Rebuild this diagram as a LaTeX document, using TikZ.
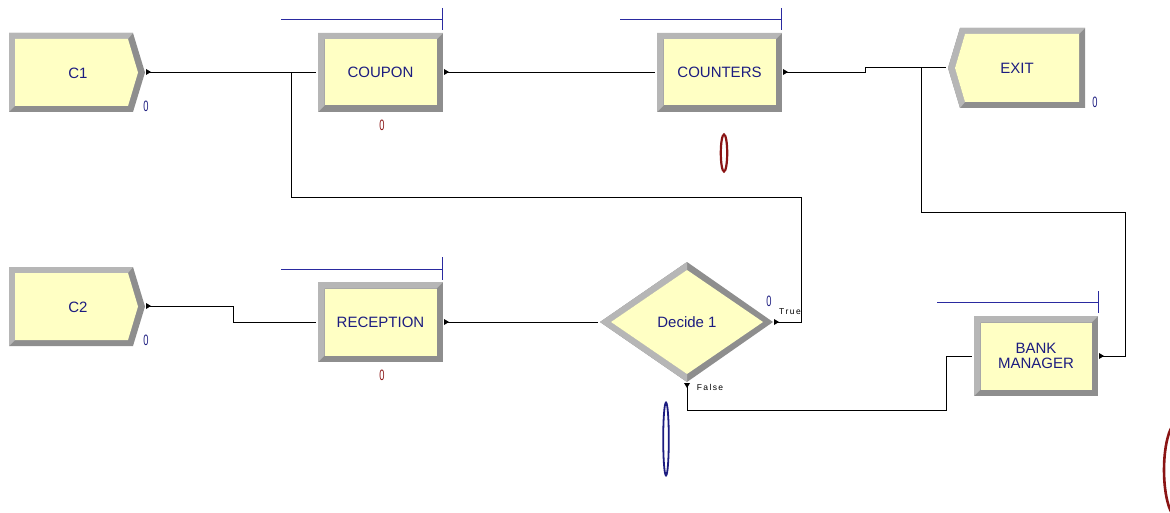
\documentclass[tikz,border=0pt]{standalone}
\usepackage{fontspec}
\setmainfont{Liberation Sans}
\usetikzlibrary{arrows.meta,calc}
\definecolor{bevlight}{HTML}{B6B6B6}
\definecolor{bevdark}{HTML}{8E8E8E}
\definecolor{modyel}{HTML}{FFFFC4}
\definecolor{navy}{HTML}{1C1C80}
\definecolor{qblue}{HTML}{2A2AA0}
\definecolor{dred}{HTML}{8A1414}
\tikzset{
  modtext/.style={text=navy, font=\fontsize{15}{15.5}\selectfont, align=center, inner sep=0pt},
  zeroblue/.style={text=navy, font=\fontsize{15}{15}\selectfont, inner sep=0pt},
  zerored/.style={text=dred, font=\fontsize{15}{15}\selectfont, inner sep=0pt},
  conn/.style={draw=black, line width=0.8pt},
  portmark/.style={fill=black},
  queue/.style={draw=qblue, line width=0.8pt},
  branchlbl/.style={text=black, font=\fontsize{8.5}{8.5}\selectfont, inner sep=0pt},
}
\newcommand{\zerolbl}{\scalebox{0.62}[1]{0}}
% rectangular process module: name, x1, y1, x2, y2, text
\newcommand{\procmod}[6]{%
  \fill[bevdark] (#2,#3) rectangle (#4,#5);
  \fill[bevlight] (#2,#3) -- (#4,#3) -- ({#4-6.5},{#3+6.5}) -- ({#2+6.5},{#3+6.5}) -- ({#2+6.5},{#5-6.5}) -- (#2,#5) -- cycle;
  \fill[modyel] ({#2+6.5},{#3+6.5}) rectangle ({#4-6.5},{#5-6.5});
  \node[modtext, minimum width={(#4-#2)*1pt}, minimum height={(#5-#3)*1pt}] (#1) at ({(#2+#4)/2},{(#3+#5)/2}) {#6};
}
% create module (pointing right): name, x1, y1, y2, text
\newcommand{\createmod}[5]{%
  \fill[bevdark] (#2,#3) -- ({#2+124},#3) -- ({#2+136},{(#3+#4)/2}) -- ({#2+124},#4) -- (#2,#4) -- cycle;
  \fill[bevlight] (#2,#3) -- ({#2+124},#3) -- ({#2+119},{#3+6}) -- ({#2+6},{#3+6}) -- ({#2+6},{#4-6}) -- (#2,#4) -- cycle;
  \fill[modyel] ({#2+6},{#3+6}) -- ({#2+119},{#3+6}) -- ({#2+129},{(#3+#4)/2}) -- ({#2+119},{#4-6}) -- ({#2+6},{#4-6}) -- cycle;
  \node[modtext, minimum width=124pt, minimum height={(#4-#3)*1pt}] (#1) at ({#2+69},{(#3+#4)/2+0.5}) {#5};
}
% exit marks: right-pointing and down-pointing small triangles
\newcommand{\portright}[1]{\fill[portmark] ($(#1)+(0pt,3pt)$) -- ($(#1)+(5pt,0pt)$) -- ($(#1)+(0pt,-3pt)$) -- cycle;}
\newcommand{\portdown}[1]{\fill[portmark] ($(#1)+(-3pt,0pt)$) -- ($(#1)+(0pt,-5pt)$) -- ($(#1)+(3pt,0pt)$) -- cycle;}
\begin{document}
\begin{tikzpicture}[x=1pt,y=-1pt]
\useasboundingbox (0,0) rectangle (1170,513);

% ---- modules ----
\createmod{c1}{9}{33}{112}{C1}
\createmod{c2}{9}{267}{346}{C2}
\procmod{coupon}{318}{33}{443}{112}{COUPON}
\procmod{counters}{657}{33}{782}{112}{COUNTERS}
\procmod{reception}{318}{282}{443}{362}{RECEPTION}
\procmod{bank}{974}{316}{1098}{396}{BANK\\MANAGER}

% exit (dispose) module
\fill[bevdark] (948,68) -- (960,28) -- (1085,28) -- (1085,108) -- (960,108) -- cycle;
\fill[bevlight] (948,68) -- (960,28) -- (1085,28) -- (1079,34) -- (965,34) -- (955,68) -- (965,102) -- (960,108) -- cycle;
\fill[modyel] (955,68) -- (965,34) -- (1079,34) -- (1079,102) -- (965,102) -- cycle;
\node[modtext, minimum width=125pt, minimum height=80pt] (exit) at (1017,68) {EXIT};

% decide module
\fill[bevdark] (600,322) -- (687,262) -- (773,322) -- (687,382) -- cycle;
\fill[bevlight] (687,262) -- (600,322) -- (687,382) -- (687,374) -- (611,322) -- (687,270) -- cycle;
\fill[modyel] (611,322) -- (687,270) -- (763,322) -- (687,374) -- cycle;
\node[modtext, minimum width=150pt, minimum height=100pt] (decide) at (687,322) {Decide 1};

% ---- counters / labels ----
\node[zeroblue] (z1) at (146,106) {\zerolbl};
\node[zeroblue] (z2) at (146,340) {\zerolbl};
\node[zeroblue] (z3) at (1095,102) {\zerolbl};
\node[zeroblue] (z4) at (769,301) {\zerolbl};
\node[zerored] (z5) at (382,125) {\zerolbl};
\node[zerored] (z6) at (382,375) {\zerolbl};
\node[branchlbl] (ltrue) at (790,312) {T\,r\,u\,e};
\node[branchlbl] (lfalse) at (710,387) {F\,a\,l\,s\,e};

% ---- queues ----
\draw[queue] (281,19) -- (442,19) (442,8) -- (442,30);
\draw[queue] (620,19) -- (781,19) (781,8) -- (781,30);
\draw[queue] (281,269) -- (442,269) (442,257) -- (442,280);
\draw[queue] (937,302) -- (1098,302) (1098,291) -- (1098,313);

% ---- resource / animation ellipses ----
\draw[dred, line width=2.2pt] (724,153) ellipse [x radius=3.2, y radius=18.5];
\draw[navy, line width=1.8pt] (666,439) ellipse [x radius=2.8, y radius=36.5];
\begin{scope}
\clip (0,0) rectangle (1170,513);
\draw[dred, line width=2.6pt] (1178,470) ellipse [x radius=14, y radius=48];
\end{scope}

% ---- ports ----
\coordinate (c1out) at (146,72);
\coordinate (c2out) at (146,306);
\coordinate (coupin) at (316,72);
\coordinate (coupout) at (444,72);
\coordinate (cntin) at (655,72);
\coordinate (cntout) at (783,72);
\coordinate (exitin) at (946,67);
\coordinate (recin) at (316,322);
\coordinate (recout) at (444,322);
\coordinate (decin) at (598,322);
\coordinate (dectrue) at (774,322);
\coordinate (decfalse) at (687,383);
\coordinate (bmin) at (972,356);
\coordinate (bmout) at (1099,356);
\coordinate (j1) at (291,72);
\coordinate (j2) at (921,67);

% ---- connectors ----
\draw[conn] (c1out) -- (coupin);
\draw[conn] (dectrue) -| (801,197) -| (j1) -- (coupin);
\draw[conn] (coupout) -- (cntin);
\draw[conn] (cntout) -- (865,72) |- (exitin);
\draw[conn] (bmout) -| (1125,212) -| (j2) -- (exitin);
\draw[conn] (c2out) -| (233,322) -- (recin);
\draw[conn] (recout) -- (decin);
\draw[conn] (decfalse) |- (946,410) |- (bmin);

% ---- exit point marks ----
\portright{c1out}
\portright{c2out}
\portright{coupout}
\portright{cntout}
\portright{recout}
\portright{dectrue}
\portright{bmout}
\portdown{decfalse}
\end{tikzpicture}
\end{document}
